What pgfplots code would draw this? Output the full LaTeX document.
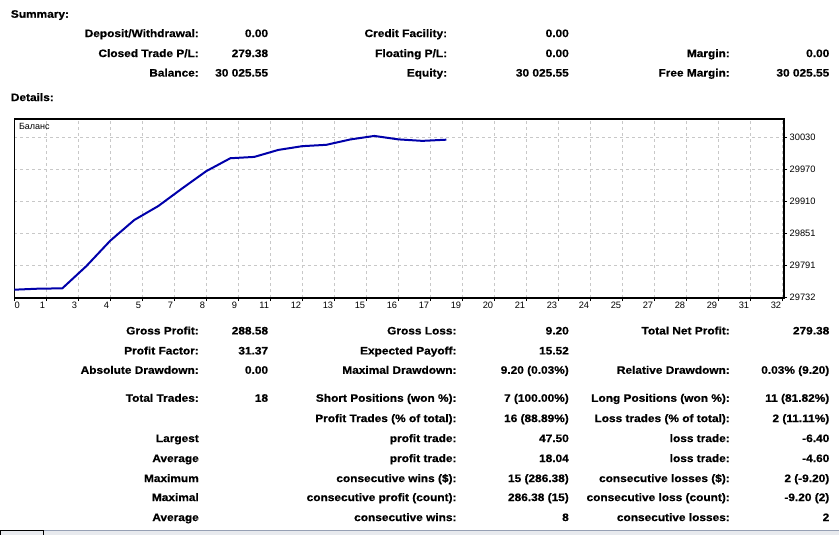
\documentclass[border=0pt]{standalone}
\usepackage{fontspec}
\setmainfont{Liberation Sans}[BoldFeatures={FakeStretch=1.1,FakeBold=0.6}]
\usepackage{pgfplots}
\pgfplotsset{compat=1.18}

\definecolor{balline}{RGB}{0,0,170}
\definecolor{gridgray}{RGB}{200,200,200}
\definecolor{barfill}{RGB}{232,234,238}
\definecolor{barline}{RGB}{150,160,180}

% account balance after each closed trade
\pgfplotstableread{
trade balance
0  29746.17
1  29748.07
2  29748.67
3  29790.00
4  29837.50
5  29876.00
6  29902.00
7  29935.00
8  29967.00
9  29991.00
10 29993.50
11 30006.50
12 30013.50
13 30016.00
14 30026.00
15 30032.55
16 30026.15
17 30023.35
18 30025.55
}\balance

\newcommand\tf{\fontsize{10.8}{12}\selectfont\bfseries}
\newcommand\lab[3]{\node[anchor=east] at (#1,#2) {\tf #3};}

\begin{document}
\begin{tikzpicture}
\begin{scope}[x=1pt,y=-1pt,every node/.style={inner sep=0pt,text height=8pt,text depth=2.5pt}]
  \path[fill=white,use as bounding box] (0,0) rectangle (839,535);

  % summary block
  \node[anchor=west] at (10.7,15) {\tf Summary:};
  \lab{199}{34.3}{Deposit/Withdrawal:}
  \lab{268.3}{34.3}{0.00}
  \lab{447.3}{34.3}{Credit Facility:}
  \lab{569}{34.3}{0.00}
  \lab{199}{54.3}{Closed Trade P/L:}
  \lab{268.3}{54.3}{279.38}
  \lab{447.3}{54.3}{Floating P/L:}
  \lab{569}{54.3}{0.00}
  \lab{730}{54.3}{Margin:}
  \lab{829.5}{54.3}{0.00}
  \lab{199}{73.8}{Balance:}
  \lab{268.3}{73.8}{30 025.55}
  \lab{447.3}{73.8}{Equity:}
  \lab{569}{73.8}{30 025.55}
  \lab{730}{73.8}{Free Margin:}
  \lab{829.5}{73.8}{30 025.55}
  \node[anchor=west] at (10.7,98.3) {\tf Details:};

  % statistics block
  \lab{199}{331.7}{Gross Profit:}
  \lab{268.3}{331.7}{288.58}
  \lab{456.7}{331.7}{Gross Loss:}
  \lab{569}{331.7}{9.20}
  \lab{730}{331.7}{Total Net Profit:}
  \lab{829.5}{331.7}{279.38}

  \lab{199}{351.7}{Profit Factor:}
  \lab{268.3}{351.7}{31.37}
  \lab{456.7}{351.7}{Expected Payoff:}
  \lab{569}{351.7}{15.52}

  \lab{199}{371}{Absolute Drawdown:}
  \lab{268.3}{371}{0.00}
  \lab{456.7}{371}{Maximal Drawdown:}
  \lab{569}{371}{9.20 (0.03\%)}
  \lab{730}{371}{Relative Drawdown:}
  \lab{829.5}{371}{0.03\% (9.20)}

  \lab{199}{399}{Total Trades:}
  \lab{268.3}{399}{18}
  \lab{456.7}{399}{Short Positions (won \%):}
  \lab{569}{399}{7 (100.00\%)}
  \lab{730}{399}{Long Positions (won \%):}
  \lab{829.5}{399}{11 (81.82\%)}

  \lab{456.7}{419.3}{Profit Trades (\% of total):}
  \lab{569}{419.3}{16 (88.89\%)}
  \lab{730}{419.3}{Loss trades (\% of total):}
  \lab{829.5}{419.3}{2 (11.11\%)}

  \lab{199}{439.3}{Largest}
  \lab{456.7}{439.3}{profit trade:}
  \lab{569}{439.3}{47.50}
  \lab{730}{439.3}{loss trade:}
  \lab{829.5}{439.3}{-6.40}

  \lab{199}{459.3}{Average}
  \lab{456.7}{459.3}{profit trade:}
  \lab{569}{459.3}{18.04}
  \lab{730}{459.3}{loss trade:}
  \lab{829.5}{459.3}{-4.60}

  \lab{199}{479.3}{Maximum}
  \lab{456.7}{479.3}{consecutive wins (\$):}
  \lab{569}{479.3}{15 (286.38)}
  \lab{730}{479.3}{consecutive losses (\$):}
  \lab{829.5}{479.3}{2 (-9.20)}

  \lab{199}{498.3}{Maximal}
  \lab{456.7}{498.3}{consecutive profit (count):}
  \lab{569}{498.3}{286.38 (15)}
  \lab{730}{498.3}{consecutive loss (count):}
  \lab{829.5}{498.3}{-9.20 (2)}

  \lab{199}{518.3}{Average}
  \lab{456.7}{518.3}{consecutive wins:}
  \lab{569}{518.3}{8}
  \lab{730}{518.3}{consecutive losses:}
  \lab{829.5}{518.3}{2}

  % tab strip at the bottom edge
  \fill[barfill] (0,530) rectangle (839,535);
  \draw[barline,line width=0.8pt] (0,530) -- (839,530);
  \draw[black,line width=0.8pt] (0.5,535) -- (0.5,530.5) -- (43,530.5) -- (43,535);
\end{scope}

\begin{axis}[
  at={(14.3pt,-298pt)}, anchor=south west,
  scale only axis, width=769.7pt, height=179pt,
  xmin=0, xmax=32.07, ymin=29730.7, ymax=30064.1,
  scaled y ticks=false, scaled x ticks=false,
  axis line style={black,line width=1.2pt},
  grid=major,
  major grid style={gridgray,line width=0.8pt,dash pattern=on 3pt off 3pt},
  tick align=outside, major tick length=3pt,
  tick style={black,line width=0.8pt},
  xtick pos=bottom, ytick pos=right, yticklabel pos=right,
  /pgf/number format/assume math mode=true,
  xtick={1.3333,2.6667,4,5.3333,6.6667,8,9.3333,10.6667,12,13.3333,14.6667,16,17.3333,18.6667,20,21.3333,22.6667,24,25.3333,26.6667,28,29.3333,30.6667,32},
  xticklabels={1,3,4,5,7,8,9,11,12,13,15,16,17,19,20,21,23,24,25,27,28,29,31,32},
  extra x ticks={0}, extra x tick labels={0},
  extra x tick style={grid=none,xticklabel style={anchor=north west,xshift=1pt}},
  xticklabel style={font=\fontsize{9.3}{10}\selectfont,anchor=north east,inner sep=0pt,xshift=-1pt,yshift=-1pt},
  ytick={29732,29791.6,29851.2,29910.8,29970.4,30030},
  yticklabels={29732,29791,29851,29910,29970,30030},
  yticklabel style={font=\fontsize{9.3}{10}\selectfont,anchor=west,inner sep=0pt,xshift=2.5pt},
  clip=true,
]
\addplot[balline,line width=2pt,line join=round,mark=none] table[x=trade,y=balance] {\balance};
\node[anchor=north west,inner sep=0pt,font=\fontsize{9}{10}\selectfont] at (rel axis cs:0,1) [xshift=4.5pt,yshift=-4pt] {Баланс};
\end{axis}
\end{tikzpicture}
\end{document}
